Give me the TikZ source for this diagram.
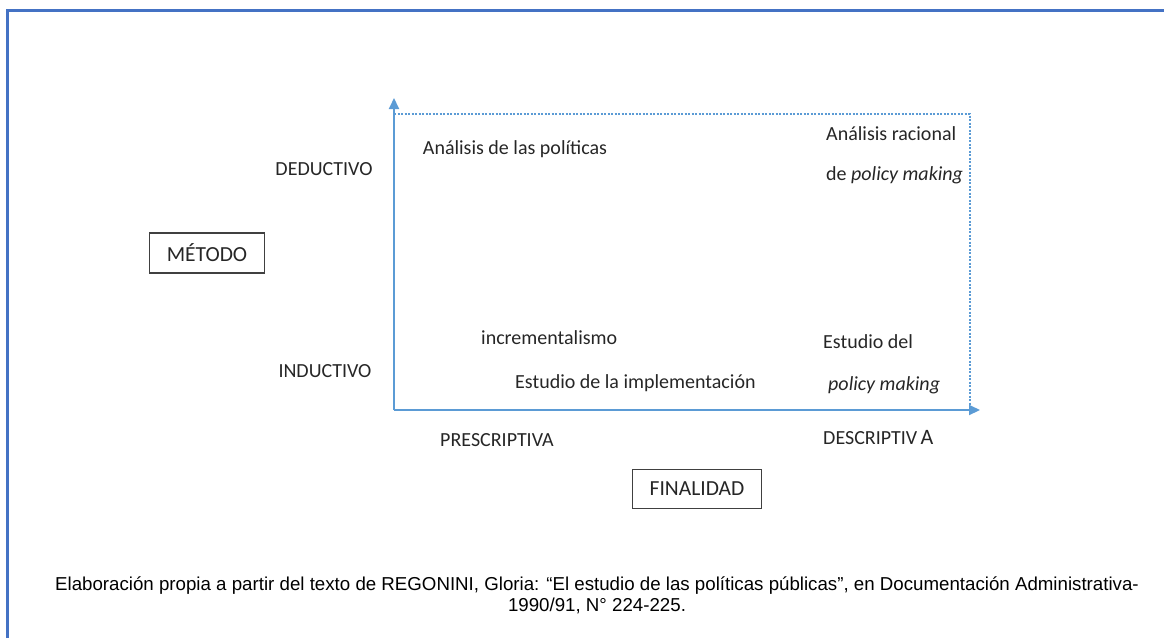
\documentclass[tikz,border=0pt]{standalone}
\usepackage{fontspec}
\setmainfont{Carlito}
\newfontfamily\capfont{Liberation Sans}
\usetikzlibrary{arrows.meta}
\definecolor{frameblue}{HTML}{4472C4}
\definecolor{axisblue}{HTML}{5B9BD5}
\tikzset{
  lbl/.style={font=\fontsize{20}{22}\selectfont, text=black!85, inner sep=0pt},
  boxlbl/.style={lbl, font=\fontsize{21.5}{24}\selectfont, draw=black!75, line width=1.3pt, minimum width=115pt, minimum height=40pt},
  axis/.style={draw=axisblue, line width=2pt, -{Triangle[length=11pt,width=10pt]}},
  dotline/.style={draw=axisblue, line width=1.3pt, dash pattern=on 2pt off 1.5pt},
}
\begin{document}
\begin{tikzpicture}[x=1pt,y=-1pt]
\useasboundingbox (0,0) rectangle (1164,638);
% frame
\coordinate (fbl) at (7,638);
\coordinate (ftl) at (7,10);
\coordinate (ftr) at (1164,10);
\draw[frameblue, line width=3pt] (fbl) -- (ftl) -- (ftr);
% axes
\coordinate (O) at (394,410);
\coordinate (ytip) at (394,98);
\coordinate (xtip) at (980,410);
\coordinate (dtl) at (394,114);
\coordinate (dtr) at (970,114);
\coordinate (dbr) at (970,410);
\draw[dotline] (dtl) -- (dtr) -- (dbr);
\draw[axis] (O) -- (ytip);
\draw[axis] (O) -- (xtip);
% labels
\node[lbl] (ded) at (324,169) {DEDUCTIVO};
\node[lbl] (ind) at (325,371) {INDUCTIVO};
\node[boxlbl] (met) at (207,253) {MÉTODO};
\node[boxlbl, minimum width=129pt, minimum height=39pt] (fin) at (697,489) {FINALIDAD};
\node[lbl] (pre) at (497,440) {PRESCRIPTIVA};
\node[lbl, anchor=west] (des) at (823,438) {DESCRIPTIV\,{\fontsize{22}{22}\selectfont A}};
\node[lbl] (anp) at (515,149) {Análisis de las políticas};
\node[lbl, anchor=west] (arl1) at (826,134) {Análisis racional};
\node[lbl, anchor=west] (arl2) at (826,175) {de \textit{policy making}};
\node[lbl, anchor=west] (inc) at (481,338) {incrementalismo};
\node[lbl, anchor=west] (eim) at (515,383) {Estudio de la implementación};
\node[lbl, anchor=west] (edl1) at (823,342) {Estudio del};
\node[lbl, anchor=west] (edl2) at (828,385) {\textit{policy making}};
% caption
\node[font=\capfont\fontsize{18.7}{21}\selectfont, align=center, inner sep=0pt] (cap) at (597,595)
  {Elaboración propia a partir del texto de REGONINI, Gloria: “El estudio de las políticas públicas”, en Documentación Administrativa-\\1990/91, N° 224-225.};
\end{tikzpicture}
\end{document}
